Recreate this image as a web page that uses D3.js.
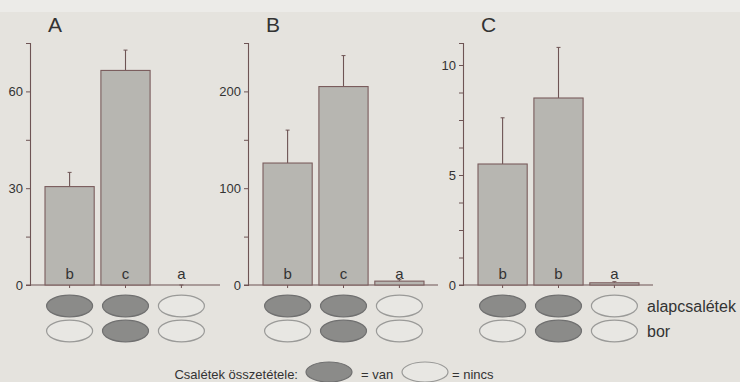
<!DOCTYPE html>
<html>
<head>
<meta charset="utf-8">
<script src="https://cdn.jsdelivr.net/npm/d3@7"></script>
<style>
  body { margin: 0; background: #e5e3de; }
  svg { display: block; font-family: "Liberation Sans", Arial, sans-serif; }
</style>
</head>
<body>
<svg width="740" height="382"></svg>
<script>
// adatok
var panelNames = ["A", "B", "C"];
var meansA = [30.5, 66.5, 0];
var errA = [4.4, 6.3, 0];
var meansB = [126, 205, 4];
var errB = [34, 32, 1.5];
var meansC = [5.5, 8.5, 0.1];
var errC = [2.1, 2.3, 0.05];
var lettersA = ["b", "c", "a"];
var lettersB = ["b", "c", "a"];
var lettersC = ["b", "b", "a"];
var ticksA = [0, 15, 30, 45, 60, 75];
var ticksB = [0, 50, 100, 150, 200, 250];
var ticksC = [0, 1.25, 2.5, 3.75, 5, 6.25, 7.5, 8.75, 10];
var labelsA = [0, 30, 60];
var labelsB = [0, 100, 200];
var labelsC = [0, 5, 10];
var maxA = 75, maxB = 250, maxC = 11;
// csalétek összetétele (1 = van, 0 = nincs)
var alapcsaletek = [1, 1, 0];
var bor = [0, 1, 0];
var rowNames = ["alapcsalétek", "bor"];

var panels = [
  {name: panelNames[0], means: meansA, err: errA, letters: lettersA, ticks: ticksA, labels: labelsA, max: maxA, ax: 30},
  {name: panelNames[1], means: meansB, err: errB, letters: lettersB, ticks: ticksB, labels: labelsB, max: maxB, ax: 248},
  {name: panelNames[2], means: meansC, err: errC, letters: lettersC, ticks: ticksC, labels: labelsC, max: maxC, ax: 463}
];

var svg = d3.select("svg");
var axisColor = "#6e5454";
var textColor = "#333333";

svg.append("rect").attr("width", 740).attr("height", 382).attr("fill", "#e5e3de");
svg.append("rect").attr("width", 740).attr("height", 12).attr("fill", "#ecebe8");

var yBase = 285, yTop = 43;

panels.forEach(function(p) {
  var x = d3.scaleBand().domain([0, 1, 2]).range([p.ax + 15, p.ax + 176]).paddingInner(0.12);
  var y = d3.scaleLinear().domain([0, p.max]).range([yBase, yTop]);
  var g = svg.append("g");

  // y tengely
  var yAxis = d3.axisLeft(y)
    .tickValues(p.ticks)
    .tickSizeOuter(0)
    .tickSize(4)
    .tickFormat(function(d) { return p.labels.indexOf(d) >= 0 ? d : ""; });
  var ag = g.append("g").attr("transform", "translate(" + p.ax + ",0)").call(yAxis);
  ag.select(".domain").attr("stroke", axisColor).attr("stroke-width", 1.1);
  ag.selectAll(".tick line").attr("stroke", axisColor);
  ag.selectAll(".tick text").attr("fill", textColor).attr("font-size", 13).attr("x", -7);

  // alapvonal
  g.append("line")
    .attr("x1", p.ax - 4).attr("x2", p.ax + 190)
    .attr("y1", yBase).attr("y2", yBase)
    .attr("stroke", axisColor).attr("stroke-width", 1.1);
  g.selectAll(".xt").data([0, 1, 2]).enter().append("line")
    .attr("x1", function(i) { return x(i) + x.bandwidth() / 2; })
    .attr("x2", function(i) { return x(i) + x.bandwidth() / 2; })
    .attr("y1", yBase).attr("y2", yBase + 3)
    .attr("stroke", axisColor);

  // hibasávok
  g.selectAll(".err").data(p.means).enter().append("line")
    .attr("x1", function(d, i) { return x(i) + x.bandwidth() / 2; })
    .attr("x2", function(d, i) { return x(i) + x.bandwidth() / 2; })
    .attr("y1", function(d) { return y(d); })
    .attr("y2", function(d, i) { return y(d + p.err[i]); })
    .attr("stroke", axisColor).attr("stroke-width", 1.1);
  g.selectAll(".cap").data(p.means).enter().append("line")
    .attr("x1", function(d, i) { return x(i) + x.bandwidth() / 2 - 2; })
    .attr("x2", function(d, i) { return x(i) + x.bandwidth() / 2 + 2; })
    .attr("y1", function(d, i) { return y(d + p.err[i]); })
    .attr("y2", function(d, i) { return y(d + p.err[i]); })
    .attr("stroke", axisColor);

  // oszlopok
  g.selectAll(".bar").data(p.means).enter().append("rect")
    .attr("x", function(d, i) { return x(i); })
    .attr("width", x.bandwidth())
    .attr("y", function(d) { return y(d); })
    .attr("height", function(d) { return yBase - y(d); })
    .attr("fill", "#b7b6b1")
    .attr("stroke", "#7a5c5c").attr("stroke-width", 1.1);

  g.selectAll(".let").data(p.letters).enter().append("text")
    .attr("x", function(d, i) { return x(i) + x.bandwidth() / 2; })
    .attr("y", 279)
    .attr("text-anchor", "middle")
    .attr("font-size", 15)
    .attr("fill", textColor)
    .text(function(d) { return d; });

  g.append("text")
    .attr("x", p.ax + 18).attr("y", 32)
    .attr("font-size", 21)
    .attr("fill", textColor)
    .text(p.name);

  // ellipszisek
  [alapcsaletek, bor].forEach(function(row, r) {
    g.selectAll(".el" + r).data(row).enter().append("ellipse")
      .attr("cx", function(d, i) { return x(i) + x.bandwidth() / 2; })
      .attr("cy", 306 + r * 25)
      .attr("rx", 23).attr("ry", 10.8)
      .attr("fill", function(d) { return d ? "#8b8b89" : "#e8e7e3"; })
      .attr("stroke", function(d) { return d ? "#707070" : "#9a9a98"; })
      .attr("stroke-width", 1.2);
  });
});

svg.selectAll(".rowlab").data(rowNames).enter().append("text")
  .attr("x", 647)
  .attr("y", function(d, i) { return 312 + i * 25; })
  .attr("font-size", 16)
  .attr("fill", textColor)
  .text(function(d) { return d; });

// jelmagyarázat
var leg = svg.append("g");
leg.append("text").attr("x", 298).attr("y", 379).attr("text-anchor", "end")
  .attr("font-size", 13).attr("fill", textColor).text("Csalétek összetétele:");
leg.append("ellipse").attr("cx", 329).attr("cy", 372).attr("rx", 23).attr("ry", 10)
  .attr("fill", "#8b8b89").attr("stroke", "#707070").attr("stroke-width", 1.2);
leg.append("text").attr("x", 361).attr("y", 379)
  .attr("font-size", 13).attr("fill", textColor).text("= van");
leg.append("ellipse").attr("cx", 425).attr("cy", 372).attr("rx", 23).attr("ry", 10)
  .attr("fill", "#e8e7e3").attr("stroke", "#9a9a98").attr("stroke-width", 1.2);
leg.append("text").attr("x", 452).attr("y", 379)
  .attr("font-size", 13).attr("fill", textColor).text("= nincs");
</script>
</body>
</html>
